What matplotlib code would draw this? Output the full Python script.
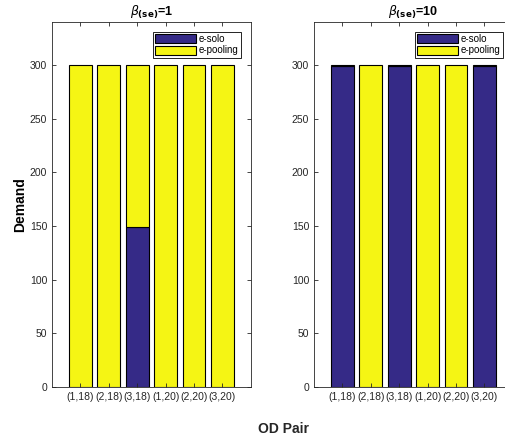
import matplotlib
matplotlib.use('Agg')
import matplotlib.pyplot as plt
import numpy as np

plt.rcParams['font.family'] = ['Liberation Sans', 'DejaVu Sans']

# OD pairs and demand split per beta value
od_pairs = ['(1,18)', '(2,18)', '(3,18)', '(1,20)', '(2,20)', '(3,20)']
solo_b1 = [0, 0, 149, 0, 0, 0]
pool_b1 = [300, 300, 151, 300, 300, 300]
solo_b10 = [299, 0, 299, 0, 0, 299]
pool_b10 = [1, 300, 1, 300, 300, 1]
titles = [r'$\beta_{\mathbf{(se)}}$=1', r'$\beta_{\mathbf{(se)}}$=10']

navy = '#352a87'
yellow = '#f5f514'
axcol = '#262626'

fig = plt.figure(figsize=(5.06, 4.41), dpi=100)
ax1 = fig.add_axes([0.1028, 0.1224, 0.393, 0.828])
ax2 = fig.add_axes([0.6206, 0.1224, 0.393, 0.828])

x = np.arange(1, len(od_pairs) + 1)
for ax, solo, pool, title in [(ax1, solo_b1, pool_b1, titles[0]),
                              (ax2, solo_b10, pool_b10, titles[1])]:
    ax.bar(x, solo, width=0.8, color=navy, edgecolor='black', linewidth=0.8, label='e-solo')
    ax.bar(x, pool, width=0.8, bottom=solo, color=yellow, edgecolor='black', linewidth=0.8, label='e-pooling')
    ax.set_xlim(0, 7)
    ax.set_ylim(0, 340)
    ax.set_yticks(range(0, 301, 50))
    ax.set_xticks(x)
    ax.set_xticklabels(od_pairs, fontsize=7.5, color=axcol)
    ax.tick_params(axis='y', labelsize=7.5, labelcolor=axcol)
    ax.tick_params(direction='in', top=True, right=True, length=3, width=0.6, color=axcol)
    for s in ax.spines.values():
        s.set_color(axcol)
        s.set_linewidth(0.6)
    ax.set_title(title, fontsize=9, fontweight='bold', pad=4)
    leg = ax.legend(loc='upper right', fontsize=7, handlelength=4.2, handleheight=1.1,
                    borderpad=0.25, labelspacing=0.15, handletextpad=0.3,
                    fancybox=False, framealpha=1, borderaxespad=1.0)
    leg.get_frame().set_edgecolor('black')
    leg.get_frame().set_linewidth(0.6)

ax1.set_ylabel('Demand', fontsize=10, fontweight='bold', labelpad=2)
fig.text(0.56, 0.018, 'OD Pair', fontsize=10, fontweight='bold', ha='center', color=axcol)

fig.savefig('out.png', dpi=100)
